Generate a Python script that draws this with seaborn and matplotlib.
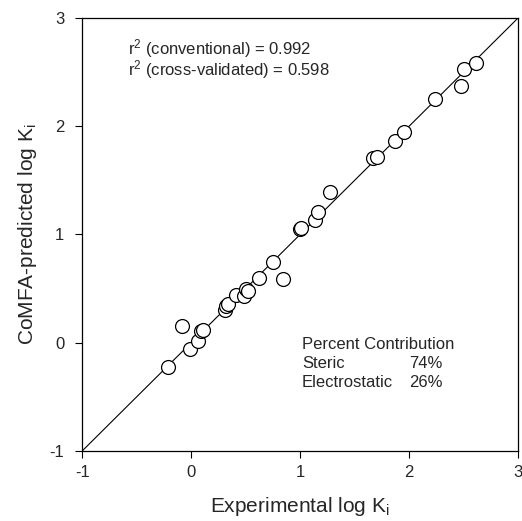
import numpy as np
import pandas as pd
import matplotlib
matplotlib.use('Agg')
import matplotlib.pyplot as plt
import seaborn as sns

sns.set_theme(style='ticks')
plt.rcParams['font.family'] = ['Liberation Sans', 'DejaVu Sans']
plt.rcParams['mathtext.fontset'] = 'custom'
plt.rcParams['mathtext.rm'] = 'Liberation Sans'
plt.rcParams['mathtext.it'] = 'Liberation Sans'

# experimental vs predicted log Ki
experimental = [-0.21, -0.085, -0.01, 0.06, 0.09, 0.11, 0.31, 0.32, 0.34, 0.41,
                0.48, 0.50, 0.52, 0.62, 0.75, 0.84, 1.00, 1.01, 1.14, 1.16,
                1.27, 1.665, 1.71, 1.87, 1.95, 2.235, 2.48, 2.51, 2.615]
predicted = [-0.23, 0.15, -0.06, 0.01, 0.105, 0.12, 0.30, 0.34, 0.36, 0.44,
             0.43, 0.50, 0.48, 0.60, 0.745, 0.59, 1.05, 1.06, 1.13, 1.21,
             1.39, 1.71, 1.72, 1.86, 1.945, 2.256, 2.37, 2.53, 2.585]
ident = [-1, 3]
ticks = [-1, 0, 1, 2, 3]

df = pd.DataFrame({'exp': experimental, 'pred': predicted})

fig = plt.figure(figsize=(5.22, 5.21), dpi=100)
ax = fig.add_axes([0.158, 0.135, 0.834, 0.830])

sns.lineplot(x=ident, y=ident, ax=ax, color='black', lw=0.8)
sns.scatterplot(data=df, x='exp', y='pred', ax=ax, s=100, facecolor='white',
                edgecolor='black', linewidth=0.9, zorder=3)

ax.set_xlim(-1, 3)
ax.set_ylim(-1, 3)
ax.set_xticks(ticks)
ax.set_yticks(ticks)
ax.set_xticklabels([str(t) for t in ticks])
ax.set_yticklabels([str(t) for t in ticks])
ax.tick_params(axis='x', direction='out', length=5, width=0.8, pad=5,
               labelsize=12, color='black')
ax.tick_params(axis='y', direction='out', length=5, width=0.8, pad=8,
               labelsize=12, color='black')
for sp in ax.spines.values():
    sp.set_visible(True)
    sp.set_color('black')
    sp.set_linewidth(0.9)

ax.set_xlabel('Experimental log K$_\\mathregular{i}$', fontsize=15, labelpad=11)
ax.set_ylabel('CoMFA-predicted log K$_\\mathregular{i}$', fontsize=15, labelpad=8)

# pixel -> axes fraction helpers
fx = lambda px: (px - 82.7) / 435.3
fy = lambda py: (450.7 - py) / 432.4

ax.text(fx(128), fy(59), 'r$^\\mathregular{2}$ (conventional) = 0.992\n'
        'r$^\\mathregular{2}$ (cross-validated) = 0.598', transform=ax.transAxes,
        fontsize=12, va='center', ha='left', linespacing=0.92)

rows = [('Percent Contribution', '', 345), ('Steric', '74%', 364),
        ('Electrostatic', '26%', 383)]
for name, pct, py in rows:
    ax.text(fx(302), fy(py), name, transform=ax.transAxes,
            fontsize=12, va='center', ha='left')
    if pct:
        ax.text(fx(443), fy(py), pct, transform=ax.transAxes,
                fontsize=12, va='center', ha='right')

fig.savefig('out.png', dpi=100, facecolor='white')
